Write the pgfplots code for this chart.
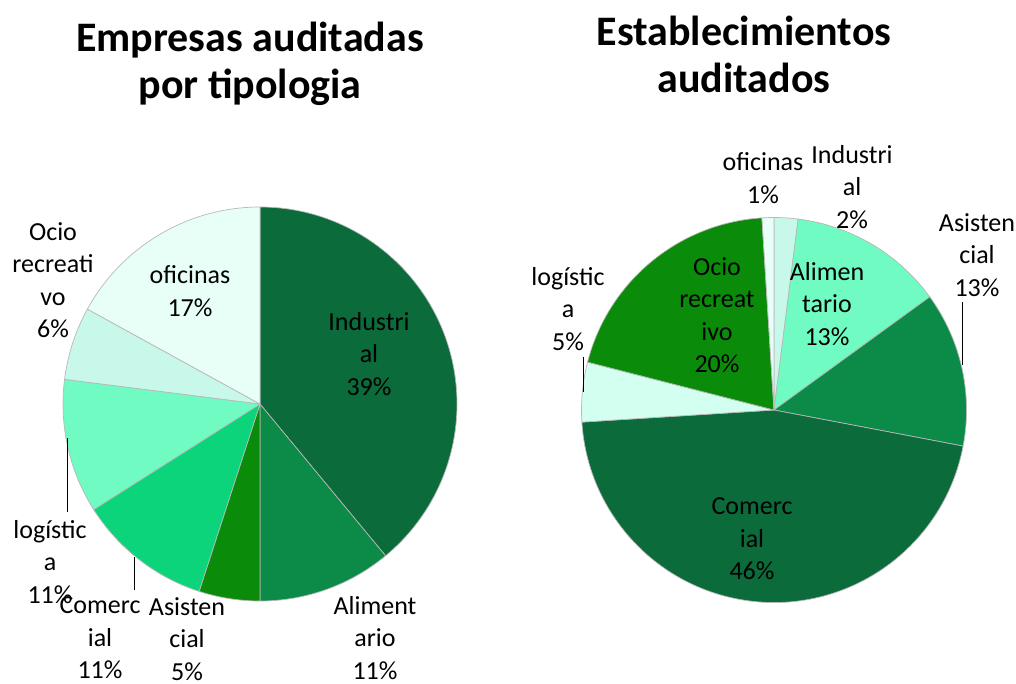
\documentclass[border=0pt]{standalone}
\usepackage{pgfplots}
\usepackage{pgfplotstable}
\pgfplotsset{compat=1.18}
\usepackage{fontspec}
\setmainfont{Carlito}

\definecolor{gOsc}{HTML}{0B6B3A}
\definecolor{gMed}{HTML}{0C8A47}
\definecolor{gPuro}{HTML}{0A8C0A}
\definecolor{gMenta}{HTML}{0CD47A}
\definecolor{gAgua}{HTML}{70FBC2}
\definecolor{gPal}{HTML}{C8F8EA}
\definecolor{gBlan}{HTML}{E8FFF8}
\definecolor{gLog}{HTML}{D2FFF0}

% values in %, clockwise from 12 o'clock
\pgfplotstableread{
name        value color
Industrial  39    gOsc
Alimentario 11    gMed
Asistencial 5     gPuro
Comercial   11    gMenta
logistica   11    gAgua
Ocio        6     gPal
oficinas    17    gBlan
}\empresas

\pgfplotstableread{
name        value color
Industrial  2     gPal
Alimentario 13    gAgua
Asistencial 13    gMed
Comercial   46    gOsc
logistica   5     gLog
Ocio        20    gPuro
oficinas    1     gBlan
}\establecimientos

% #1 table, #2 cx, #3 cy (pixels), #4 radius
\newcommand\tarta[4]{%
  \pgfplotsextra{%
    \xdef\angacc{90}%
    \pgfplotstablegetrowsof{#1}%
    \pgfmathtruncatemacro\ultima{\pgfplotsretval-1}%
    \foreach \i in {0,...,\ultima} {%
      \pgfplotstablegetelem{\i}{value}\of{#1}\let\v\pgfplotsretval
      \pgfplotstablegetelem{\i}{color}\of{#1}\let\c\pgfplotsretval
      \pgfmathsetmacro\aend{\angacc-3.6*\v}%
      \fill[\c, draw=black!28, line width=0.7pt, line join=round]
        (axis cs:#2,#3) -- ++(\angacc:#4)
        arc[start angle=\angacc, end angle=\aend, radius=#4] -- cycle;
      \xdef\angacc{\aend}%
    }%
  }%
}

\begin{document}
\begin{tikzpicture}[
  etq/.style={align=center, font=\fontsize{26}{32.5}\selectfont, inner sep=0pt},
  tit/.style={align=center, font=\fontsize{42}{47}\selectfont\bfseries, inner sep=0pt}]
\begin{axis}[
    x=1pt, y=1pt,
    xmin=0, xmax=1016,
    ymin=0, ymax=684,
    y dir=reverse,
    enlargelimits=false,
    hide axis,
    clip=false,
]
\coordinate (SW) at (axis cs:0,684);
\coordinate (NE) at (axis cs:1016,0);

\tarta{\empresas}{260}{404}{197pt}
\tarta{\establecimientos}{774}{410}{192.5pt}

% leader lines
\addplot[black, line width=1pt] coordinates {(67,438) (67,512)};
\addplot[black, line width=1pt] coordinates {(134,557) (134,590)};
\addplot[black, line width=1pt] coordinates {(962,302) (962,365)};
\addplot[black, line width=1pt] coordinates {(583,357) (583,392)};

% titles
\node[tit] at (axis cs:250,63.5) {Empresas auditadas\\por tipologia};
\node[tit] at (axis cs:744,54) {Establecimientos\\auditados};

% left labels
\node[etq] at (axis cs:190,291) {oficinas\\17\%};
\node[etq] at (axis cs:369,354) {Industri\\al\\39\%};
\node[etq] at (axis cs:53,280) {Ocio\\recreati\\vo\\6\%};
\node[etq] at (axis cs:50,562) {logístic\\a\\11\%};
\node[etq] at (axis cs:100,638) {Comerc\\ial\\11\%};
\node[etq] at (axis cs:187,639) {Asisten\\cial\\5\%};
\node[etq] at (axis cs:375,638) {Aliment\\ario\\11\%};

% right labels
\node[etq] at (axis cs:763,178) {oficinas\\1\%};
\node[etq] at (axis cs:852,187) {Industri\\al\\2\%};
\node[etq] at (axis cs:977,255) {Asisten\\cial\\13\%};
\node[etq] at (axis cs:827,304) {Alimen\\tario\\13\%};
\node[etq] at (axis cs:717,315) {Ocio\\recreat\\ivo\\20\%};
\node[etq] at (axis cs:568,309) {logístic\\a\\5\%};
\node[etq] at (axis cs:752,539) {Comerc\\ial\\46\%};
\end{axis}
\pgfresetboundingbox
\useasboundingbox (SW) rectangle (NE);
\end{tikzpicture}
\end{document}
